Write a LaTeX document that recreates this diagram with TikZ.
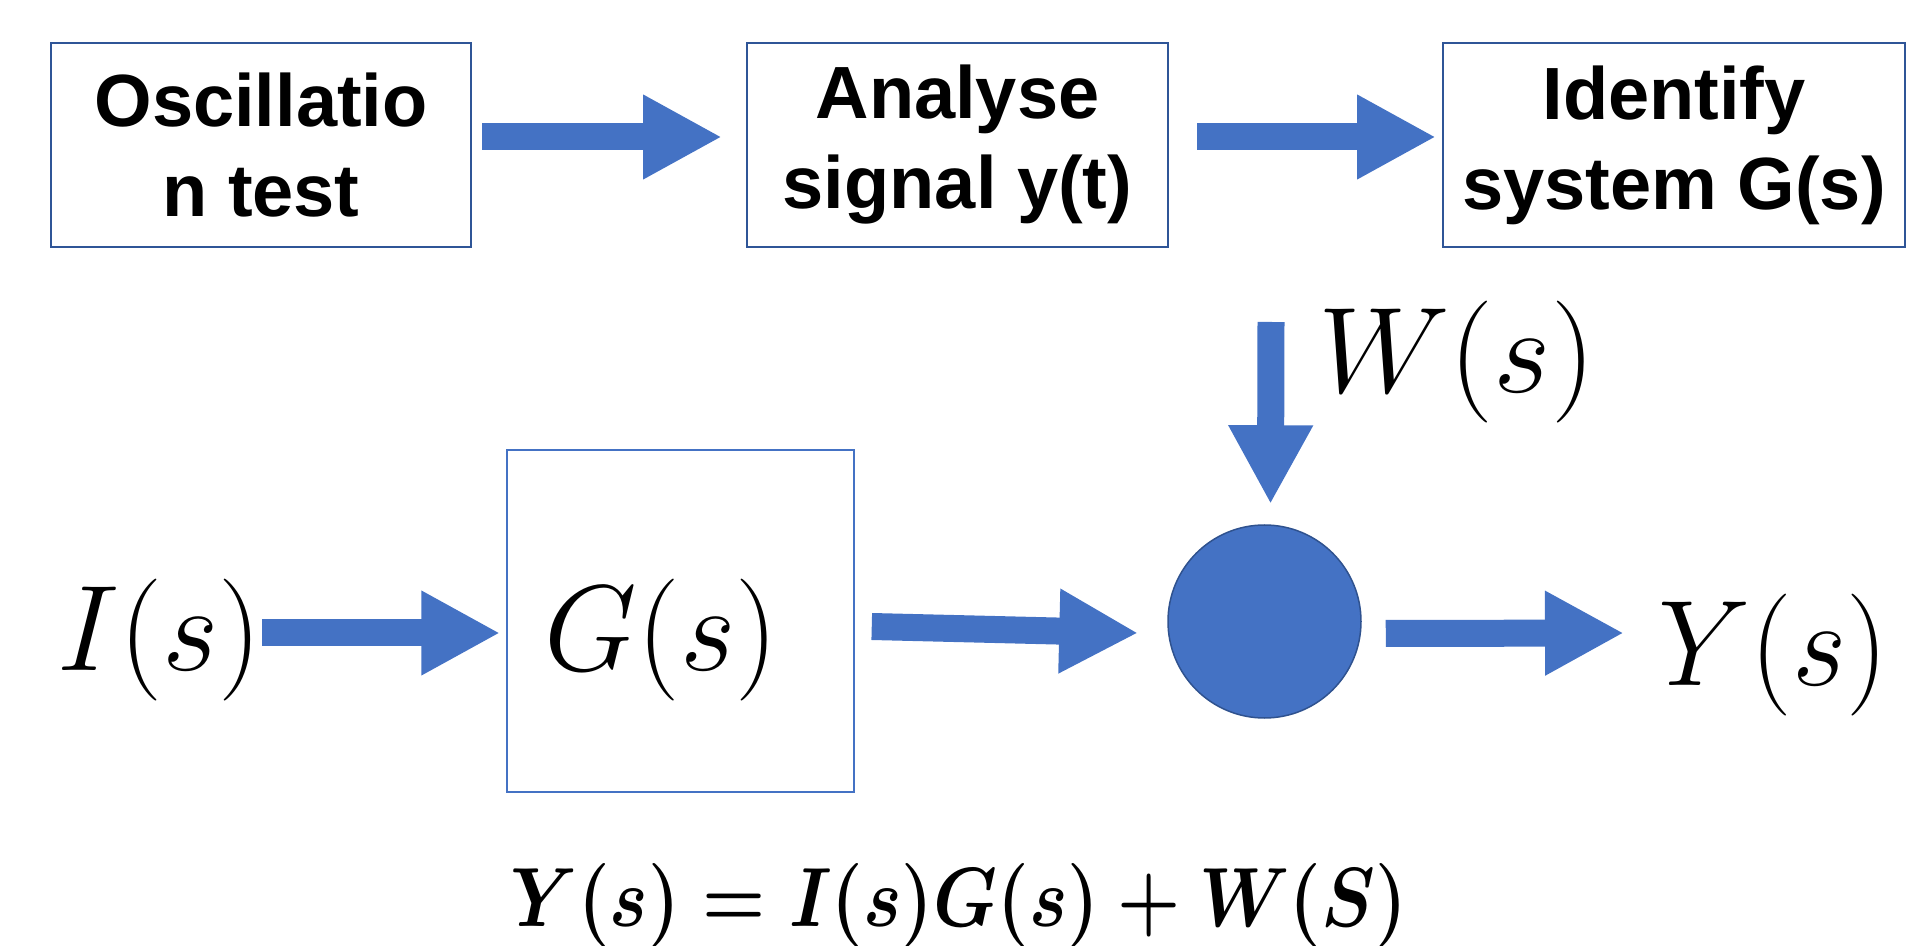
\RequirePackage{fix-cm}
\documentclass[tikz,border=0pt]{standalone}
\usepackage[no-math]{fontspec}
\setmainfont{Liberation Sans}
\usepackage{graphicx}
\usetikzlibrary{arrows.meta,calc}
\definecolor{ablue}{HTML}{4472C4}
\definecolor{dblue}{HTML}{2F5597}
\definecolor{cblue}{HTML}{2F528F}
\tikzset{
  topbox/.style={draw=dblue, line width=1pt, minimum width=#1, minimum height=102pt,
    inner sep=0pt, align=center, font=\fontsize{37}{45}\selectfont\bfseries},
  gbox/.style={draw=ablue, line width=0.75pt, minimum width=173.5pt, minimum height=171pt, inner sep=0pt},
  sumnode/.style={circle, fill=ablue, draw=cblue, line width=0.75pt, minimum size=96.5pt, inner sep=0pt},
  mathlbl/.style={anchor=base, inner sep=0pt, font=\fontsize{61}{70}\selectfont},
  bigarrow/.style={draw=ablue, line width=13.5pt, -{Triangle[length=39.5pt,width=39.5pt]}},
}
\newcommand{\fitw}[2]{\resizebox{#1}{\height}{#2}}
\begin{document}
\begin{tikzpicture}[x=0.5pt,y=-0.5pt]
\useasboundingbox (0,0) rectangle (1908,946);
% top row
\node[topbox=210pt] (b1) at (261,145) {Oscillatio\\n test};
\node[topbox=210.5pt] (b2) at (957.5,145) {Analyse\\signal y(t)};
\node[topbox=231pt] (b3) at (1674,145) {Identify\\system G(s)};
\draw[bigarrow] ([shift={(5pt,4pt)}]b1.east) -- ([shift={(-12pt,4pt)}]b2.west);
\draw[bigarrow] ([shift={(14pt,4pt)}]b2.east) -- ([shift={(-3pt,4pt)}]b3.west);
% bottom row
\node[mathlbl] (is) at (159.5,670) {\fitw{102.5pt}{$I(s)$}};
\node[gbox] (g) at (680.5,621) {};
\node[mathlbl] (gs) at (661.5,670) {\fitw{116.5pt}{$G(s)$}};
\node[sumnode] (sum) at (1264.5,621.5) {};
\node[mathlbl] (ws) at (1456.5,393) {\fitw{138.5pt}{$W(s)$}};
\node[mathlbl] (ys) at (1773,685) {\fitw{115pt}{$Y(s)$}};
\coordinate (wtop) at (1271,322);
\coordinate (yin) at (1624,633);
\draw[bigarrow] (is.east |- 0,633) -- ([shift={(-3pt,-6pt)}]g.west);
\draw[bigarrow] ([shift={(8.5pt,-2.75pt)}]g.east) -- ([shift={(-14.5pt,-5.75pt)}]sum.west);
\draw[bigarrow] (wtop) -- ([shift={(3pt,10pt)}]sum.north);
\draw[bigarrow] ([shift={(12pt,-6pt)}]sum.east) -- (yin);
% equation
\node[anchor=base, inner sep=0pt, font=\fontsize{42}{50}\selectfont] (eq) at (959,926)
  {\fitw{448pt}{\boldmath$Y(s)=I(s)G(s)+W(S)$}};
\end{tikzpicture}
\end{document}
